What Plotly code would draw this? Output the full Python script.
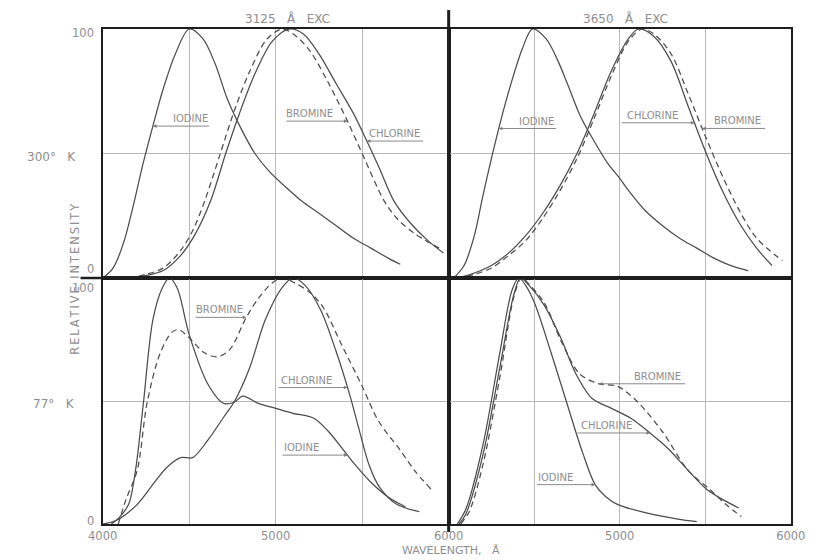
import numpy as np
import plotly.graph_objects as go

# ---------------- emission spectra (wavelength in Å, relative intensity) ----------------
# 3125 Å excitation, 300° K
iodine_300_a_wl = [4000, 4060, 4120, 4180, 4230, 4290, 4350, 4420, 4500, 4580, 4650, 4720, 4800,
                   4880, 4960, 5050, 5148, 5250, 5350, 5450, 5550, 5650, 5720]
iodine_300_a = [0, 4, 14, 30, 45, 61, 76, 90, 100, 96, 86, 72, 60, 50, 43, 37, 31, 26, 21, 16,
                12, 8, 5.5]
bromine_300_a_wl = [4150, 4250, 4350, 4450, 4520, 4590, 4680, 4760, 4850, 4950, 5040, 5120, 5200,
                    5300, 5415, 5500, 5627, 5700, 5800, 5945]
bromine_300_a = [0, 1.5, 4, 11, 19, 31, 50, 67, 83, 96, 100, 97, 91, 79, 63, 50, 31, 24, 18, 12]
chlorine_300_a_wl = [4150, 4250, 4350, 4450, 4530, 4624, 4711, 4790, 4880, 4980, 5080, 5160, 5250,
                     5350, 5450, 5527, 5600, 5683, 5780, 5880, 5970]
chlorine_300_a = [0, 1, 3, 9, 17, 31, 50, 66, 82, 95, 100, 98, 90, 78, 66, 55, 44, 31, 22, 15, 10]

# 3650 Å excitation, 300° K
iodine_300_b_wl = [4030, 4090, 4150, 4200, 4250, 4300, 4360, 4430, 4490, 4570, 4640, 4700, 4770,
                   4850, 4930, 5000, 5053, 5150, 5250, 5350, 5450, 5550, 5650, 5750]
iodine_300_b = [0, 5, 17, 33, 48, 62, 77, 92, 100, 96, 87, 77, 65, 55, 46, 40, 35, 27, 21, 16, 12,
                8, 5, 3]
chlorine_300_b_wl = [4050, 4150, 4250, 4350, 4450, 4550, 4650, 4750, 4850, 4950, 5050, 5110, 5200,
                     5300, 5400, 5500, 5600, 5700, 5800, 5890]
chlorine_300_b = [0, 2, 5, 10, 17, 26, 37, 50, 66, 83, 96, 100, 97, 87, 69, 51, 35, 22, 12, 5]
bromine_300_b_wl = [4050, 4150, 4250, 4350, 4450, 4550, 4650, 4750, 4850, 4950, 5050, 5130, 5200,
                    5300, 5400, 5500, 5600, 5700, 5800, 5950]
bromine_300_b = [0, 1.5, 4, 9, 15, 24, 35, 48, 64, 81, 95, 100, 98, 90, 74, 57, 41, 27, 16, 7]

# 3125 Å excitation, 77° K
iodine_77_a_wl = [4050, 4100, 4150, 4190, 4235, 4290, 4345, 4385, 4430, 4500, 4607, 4700, 4760,
                  4810, 4900, 5000, 5100, 5220, 5300, 5415, 5460, 5550, 5650, 5750]
iodine_77_a = [0, 3, 8, 22, 49, 83, 96, 100, 96, 77, 57, 49, 49.5, 52, 49, 47, 45, 43, 38, 28, 24,
               17, 11, 7]
chlorine_77_a_wl = [4000, 4080, 4200, 4300, 4370, 4450, 4520, 4607, 4700, 4763, 4847, 4940, 5036,
                    5100, 5170, 5260, 5350, 5426, 5480, 5540, 5600, 5700, 5830]
chlorine_77_a = [0, 1.5, 8, 17, 23, 27, 27, 34, 43.5, 50, 63, 83, 96, 100, 97, 87, 70, 53, 39, 24,
                 15, 8, 5]
bromine_77_a_wl = [4090, 4135, 4200, 4256, 4330, 4400, 4440, 4496, 4590, 4663, 4735, 4830, 4903,
                   4980, 5040, 5110, 5200, 5275, 5387, 5500, 5593, 5720, 5800, 5900]
bromine_77_a = [0, 10, 22, 49, 69, 78, 79, 76, 69.5, 68, 71, 84, 92, 98, 100, 98, 94, 88, 72, 56,
                42, 30, 22, 14]

# 3650 Å excitation, 77° K
iodine_77_b_wl = [4050, 4100, 4200, 4300, 4370, 4410, 4450, 4501, 4597, 4687, 4783, 4856, 4920,
                  4986, 5155, 5340, 5450]
iodine_77_b = [0, 6, 32, 70, 95, 100, 97, 90, 70, 50, 29, 16, 11, 8, 4.5, 2, 1]
chlorine_77_b_wl = [4060, 4100, 4200, 4300, 4380, 4420, 4470, 4558, 4653, 4744, 4839, 4952, 5065,
                    5177, 5285, 5397, 5510, 5600, 5696]
chlorine_77_b = [0, 4, 28, 64, 93, 100, 97, 89, 76, 61, 51, 47, 43, 37, 30.5, 22, 14, 10, 6.5]
bromine_77_b_wl = [4070, 4120, 4200, 4300, 4380, 4425, 4475, 4558, 4660, 4766, 4879, 4986, 5099,
                   5250, 5397, 5527, 5620, 5712]
bromine_77_b = [0, 5, 24, 60, 92, 100, 97, 90, 74, 61, 57, 56, 50, 37.5, 22, 14, 8, 3]

# axis ticks
x_tickvals = [4000, 4500, 5000, 5500, 6000]
x_ticktext_left = ["4000", "", "5000", "", "6000"]
x_ticktext_right = ["", "", "5000", "", "6000"]
y_tickvals = [0, 100]
y_ticktext = ["0", "100"]

NB = "\u00a0"
titles = ["3125" + NB * 3 + "Å" + NB * 3 + "EXC", "3650" + NB * 3 + "Å" + NB * 3 + "EXC"]
row_labels = ["300°" + NB * 3 + "K", "77°" + NB * 3 + "K"]
y_title = "\u2006".join("RELATIVE INTENSITY")
x_title = "WAVELENGTH," + NB * 3 + "Å"

# ---------------- styling ----------------
INK = "#4c4c4c"
TEXT = "#8e8e8e"
GRID = "#b8b8b8"
FRAME = "#1e1e1e"
FONT = "DejaVu Sans"

W, H = 827, 560
XL0, XMID, XR1 = 91, 450, 805
YT0, YMID, YB1 = 29, 278, 524

def px(x):
    return x / W

def py(y):
    return 1 - y / H

fig = go.Figure()

panels = {
    "tl": ("x", "y"),
    "tr": ("x2", "y2"),
    "bl": ("x3", "y3"),
    "br": ("x4", "y4"),
}

series = {
    "tl": [(iodine_300_a_wl, iodine_300_a, "solid"), (bromine_300_a_wl, bromine_300_a, "dash"),
           (chlorine_300_a_wl, chlorine_300_a, "solid")],
    "tr": [(iodine_300_b_wl, iodine_300_b, "solid"), (bromine_300_b_wl, bromine_300_b, "dash"),
           (chlorine_300_b_wl, chlorine_300_b, "solid")],
    "bl": [(iodine_77_a_wl, iodine_77_a, "solid"), (bromine_77_a_wl, bromine_77_a, "dash"),
           (chlorine_77_a_wl, chlorine_77_a, "solid")],
    "br": [(iodine_77_b_wl, iodine_77_b, "solid"), (bromine_77_b_wl, bromine_77_b, "dash"),
           (chlorine_77_b_wl, chlorine_77_b, "solid")],
}

for key, curves in series.items():
    xa, ya = panels[key]
    for wl, val, dash in curves:
        fig.add_trace(go.Scatter(
            x=wl, y=val, mode="lines", xaxis=xa, yaxis=ya,
            line=dict(color=INK, width=1.25, shape="spline", smoothing=0.9,
                      dash="6px,4px" if dash == "dash" else "solid"),
            showlegend=False, hoverinfo="skip"))

axis_common = dict(range=[4000, 6000], showgrid=True, gridcolor=GRID, gridwidth=1,
                   zeroline=False, showline=True, mirror=True, linecolor=FRAME, linewidth=2,
                   ticks="", tickvals=x_tickvals,
                   tickfont=dict(family=FONT, size=11.5, color=TEXT))
yaxis_common = dict(range=[0, 100], showgrid=True, gridcolor=GRID, gridwidth=1,
                    zeroline=False, showline=True, mirror=True, linecolor=FRAME, linewidth=2,
                    ticks="", tickvals=[0, 50, 100], showticklabels=False)

xl = [px(XL0), px(XMID)]
xr = [px(XMID), px(XR1)]
yt = [py(YMID), py(YT0)]
yb = [py(YB1), py(YMID)]

fig.update_layout(
    width=W, height=H, margin=dict(l=0, r=0, t=0, b=0),
    paper_bgcolor="white", plot_bgcolor="white",
    xaxis=dict(axis_common, domain=xl, anchor="y", showticklabels=False),
    yaxis=dict(yaxis_common, domain=yt, anchor="x"),
    xaxis2=dict(axis_common, domain=xr, anchor="y2", showticklabels=False),
    yaxis2=dict(yaxis_common, domain=yt, anchor="x2"),
    xaxis3=dict(axis_common, domain=xl, anchor="y3", ticktext=x_ticktext_left),
    yaxis3=dict(yaxis_common, domain=yb, anchor="x3"),
    xaxis4=dict(axis_common, domain=xr, anchor="y4", ticktext=x_ticktext_right),
    yaxis4=dict(yaxis_common, domain=yb, anchor="x4"),
)

# heavy frame dividers
fig.add_shape(type="line", xref="paper", yref="paper", x0=px(XMID), x1=px(XMID),
              y0=py(532), y1=py(10), line=dict(color=FRAME, width=3))
fig.add_shape(type="line", xref="paper", yref="paper", x0=px(68), x1=px(XR1),
              y0=py(YMID), y1=py(YMID), line=dict(color=FRAME, width=2.5))

annotations = []

def txt(x, y, s, size=11, angle=0):
    annotations.append(dict(x=px(x), y=py(y), xref="paper", yref="paper", text=s,
                            xanchor="center", yanchor="middle",
                            showarrow=False, textangle=angle,
                            font=dict(family=FONT, size=size, color=TEXT)))

txt(283, 19, titles[0], 12)
txt(633, 19, titles[1], 12)
txt(38, 157, row_labels[0], 12)
txt(40, 404, row_labels[1], 12)
txt(62, 279, y_title, 11.5, -90)
txt(452, 550, x_title, 11)

# y tick labels on the left-hand panels, nudged clear of the heavy middle rule
for ya, shifts in (("y", (9, -4)), ("y3", (3, -10))):
    for val, label, dy in zip(y_tickvals, y_ticktext, shifts):
        annotations.append(dict(x=0, y=val, xref="x domain" if ya == "y" else "x3 domain",
                                yref=ya, text=label, showarrow=False,
                                xanchor="right", yanchor="middle", xshift=-7, yshift=dy,
                                font=dict(family=FONT, size=11.5, color=TEXT)))

# curve labels: (panel, text, text-centre wavelength, tail wavelength, head wavelength, curve)
labels = [
    ("tl", "IODINE", 4507, 4624, 4290, (iodine_300_a_wl, iodine_300_a)),
    ("tl", "BROMINE", 5198, 5053, 5415, (bromine_300_a_wl, bromine_300_a)),
    ("tl", "CHLORINE", 5688, 5861, 5527, (chlorine_300_a_wl, chlorine_300_a)),
    ("tr", "IODINE", 4513, 4637, 4293, (iodine_300_b_wl, iodine_300_b)),
    ("tr", "CHLORINE", 5189, 5003, 5437, (chlorine_300_b_wl, chlorine_300_b)),
    ("tr", "BROMINE", 5690, 5859, 5482, (bromine_300_b_wl, bromine_300_b)),
    ("bl", "BROMINE", 4674, 4529, 4830, (bromine_77_a_wl, bromine_77_a)),
    ("bl", "CHLORINE", 5181, 5008, 5415, (chlorine_77_a_wl, chlorine_77_a)),
    ("bl", "IODINE", 5148, 5031, 5415, (iodine_77_a_wl, iodine_77_a)),
    ("br", "BROMINE", 5223, 5392, 4879, (bromine_77_b_wl, bromine_77_b)),
    ("br", "CHLORINE", 4924, 4744, 5177, (chlorine_77_b_wl, chlorine_77_b)),
    ("br", "IODINE", 4625, 4507, 4856, (iodine_77_b_wl, iodine_77_b)),
]

for key, name, tx, tail, head, (wl, val) in labels:
    xa, ya = panels[key]
    hy = float(np.interp(head, wl, val))
    annotations.append(dict(x=head, y=hy, xref=xa, yref=ya, ax=tail, ay=hy,
                            axref=xa, ayref=ya, text="", showarrow=True,
                            arrowhead=2, arrowsize=0.8, arrowwidth=0.9, arrowcolor="#7c7c7c"))
    annotations.append(dict(x=tx, y=hy, xref=xa, yref=ya, text=name, showarrow=False,
                            xanchor="center", yanchor="bottom", yshift=0,
                            font=dict(family=FONT, size=10, color=TEXT)))

fig.update_layout(annotations=annotations)

fig.write_html("out.html", post_script="document.body.style.margin='0px';")
